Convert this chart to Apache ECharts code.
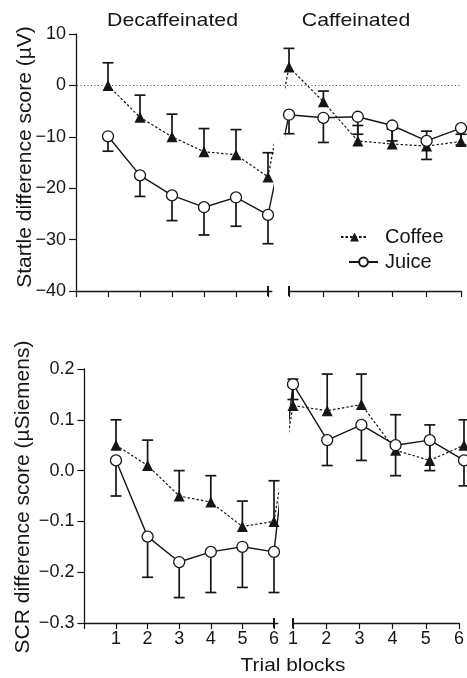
<!DOCTYPE html>
<html><head><meta charset="utf-8">
<script src="https://cdn.jsdelivr.net/npm/echarts@6/dist/echarts.min.js"></script>
<style>html,body{margin:0;padding:0;background:#fff}#c{width:467px;height:678px}</style>
</head><body><div id="c"></div>
<script>
// ---------- data ----------
const blocks = [1, 2, 3, 4, 5, 6];
const xTickValues = [1, 2, 3, 4, 5, 6];

// Startle difference score (µV)
const startleDecafCoffee    = [0, -6.2, -10, -12.9, -13.5, -17.8];
const startleDecafCoffeeErr = [4.4, -1.9, -5.6, -8.4, -8.6, -13.1];   // upper bar end
const startleDecafJuice     = [-9.9, -17.5, -21.4, -23.7, -21.8, -25.2];
const startleDecafJuiceErr  = [-12.8, -21.6, -26.3, -29.1, -27.4, -30.8]; // lower bar end
const startleCafCoffee      = [3.6, -3.2, -10.8, -11.4, -11.8, -10.9];
const startleCafCoffeeErr   = [7.2, -1.1, -7.8, -8.5, -8.9, -9.5];
const startleCafJuice       = [-5.7, -6.3, -6.1, -7.8, -10.8, -8.3];
const startleCafJuiceErr    = [-9.4, -11.1, -9.5, -10.8, -14.4, -11.6];

// SCR difference score (µSiemens)
const scrDecafCoffee    = [0.05, 0.01, -0.05, -0.062, -0.11, -0.10];
const scrDecafCoffeeErr = [0.10, 0.06, 0.0, -0.01, -0.06, -0.02];
const scrDecafJuice     = [0.02, -0.13, -0.18, -0.16, -0.15, -0.16];
const scrDecafJuiceErr  = [-0.05, -0.21, -0.25, -0.24, -0.23, -0.24];
const scrCafCoffee      = [0.128, 0.118, 0.13, 0.04, 0.02, 0.05];
const scrCafCoffeeErr   = [0.18, 0.19, 0.19, 0.11, 0.09, 0.10];
const scrCafJuice       = [0.17, 0.06, 0.09, 0.05, 0.06, 0.02];
const scrCafJuiceErr    = [0.14, 0.01, 0.02, -0.01, 0.0, -0.03];

// ---------- layout ----------
const F = '"Liberation Sans", Arial, Helvetica, sans-serif';
const INK = '#161616';
const TOP = {x0: 76, u: 32, rx1: 289, ru: 34.4, top: 34, h: 257};
const BOT = {x0: 84.4, u: 31.6, rx1: 293, ru: 34.2, top: 369, h: 254};
const LMAX = 6.12, RMIN = 0.92;

function grids(P) {
  return [
    {left: P.x0, top: P.top, width: LMAX * P.u, height: P.h},
    {left: P.rx1 - (1 - RMIN) * P.ru, top: P.top, width: (6 - RMIN) * P.ru, height: P.h},
    {left: P.rx1, top: P.top, width: 5 * P.ru, height: P.h}   // right-half axis only
  ];
}
const gTop = grids(TOP), gBot = grids(BOT);

function mainX(gi, min, max, labels) {
  return {
    type: 'value', gridIndex: gi, min: min, max: max, position: 'bottom',
    axisLine: {show: true, onZero: false, lineStyle: {color: INK, width: 1.3}},
    axisTick: {show: true, length: 6, lineStyle: {color: INK, width: 1.2},
               customValues: min === 0 ? [0].concat(xTickValues) : xTickValues},
    axisLabel: labels ? {show: true, customValues: xTickValues, margin: 7,
               fontSize: 18, fontFamily: F, color: INK} : {show: false},
    splitLine: {show: false}
  };
}
function hiddenX(gi, min, max) {
  return {type: 'value', gridIndex: gi, min: min, max: max, show: false};
}
function breakX(gi, min, max, at) {
  return {
    type: 'value', gridIndex: gi, min: min, max: max, offset: -5, position: 'bottom',
    axisLine: {show: false, onZero: false},
    axisTick: {show: true, length: 10, lineStyle: {color: INK, width: 2}, customValues: [at]},
    axisLabel: {show: false}, splitLine: {show: false}
  };
}
function yAx(gi, min, max, interval, show, fmt) {
  return {
    type: 'value', gridIndex: gi, min: min, max: max, interval: interval, show: show,
    axisLine: {show: true, onZero: false, lineStyle: {color: INK, width: 1.3}},
    axisTick: {show: true, length: 7, lineStyle: {color: INK, width: 1.2}},
    axisLabel: {show: true, margin: 10, fontSize: 18, fontFamily: F, color: INK, formatter: fmt},
    splitLine: {show: false}
  };
}
const fmtTop = v => (v < 0 ? '\u2212' : '') + Math.abs(v);
const fmtBot = v => (v < -1e-9 ? '\u2212' : '') + Math.abs(v).toFixed(1);

function errRender(params, api) {
  const x = api.value(0), y = api.value(1), b = api.value(2);
  const p1 = api.coord([x, y]), p2 = api.coord([x, b]);
  const hw = 5.5;
  const st = {stroke: INK, lineWidth: 1.7};
  return {type: 'group', children: [
    {type: 'line', shape: {x1: p1[0], y1: p1[1], x2: p2[0], y2: p2[1]}, style: st},
    {type: 'line', shape: {x1: p2[0] - hw, y1: p2[1], x2: p2[0] + hw, y2: p2[1]}, style: st}
  ]};
}

const coffeeLine = {color: INK, width: 1.2, type: [2.5, 2]};
const juiceLine = {color: INK, width: 1.4, type: 'solid'};

function panelSeries(gi, coffee, coffeeErr, juice, juiceErr) {
  return [
    {type: 'custom', name: 'ce' + gi, xAxisIndex: gi, yAxisIndex: gi, z: 1, silent: true,
     renderItem: errRender, data: blocks.map((b, i) => [b, coffee[i], coffeeErr[i]])},
    {type: 'custom', name: 'je' + gi, xAxisIndex: gi, yAxisIndex: gi, z: 1, silent: true,
     renderItem: errRender, data: blocks.map((b, i) => [b, juice[i], juiceErr[i]])},
    {type: 'line', name: 'Coffee', xAxisIndex: gi, yAxisIndex: gi, z: 3,
     symbol: 'triangle', symbolSize: 11, showSymbol: true,
     itemStyle: {color: INK}, lineStyle: coffeeLine,
     data: blocks.map((b, i) => [b, coffee[i]])},
    {type: 'line', name: 'Juice', xAxisIndex: gi, yAxisIndex: gi, z: 4,
     symbol: 'circle', symbolSize: 11, showSymbol: true,
     itemStyle: {color: '#fff', borderColor: INK, borderWidth: 1.3}, lineStyle: juiceLine,
     data: blocks.map((b, i) => [b, juice[i]])}
  ];
}
// connecting segments between the two halves of each panel (clipped by each grid)
function connectors(giL, giR, P, dc, cc, dj, cj) {
  const gapPx = P.rx1 - (P.x0 + 6 * P.u);
  const lx = 6 + gapPx / P.u, rx = 1 - gapPx / P.ru;
  const mk = (gi, data, ls, n) => ({type: 'line', name: n, xAxisIndex: gi, yAxisIndex: gi, z: 2,
    symbol: 'none', clip: true, silent: true, lineStyle: ls, data: data});
  return [
    mk(giL, [[6, dc[5]], [lx, cc[0]]], coffeeLine, 'cl' + giL),
    mk(giL, [[6, dj[5]], [lx, cj[0]]], juiceLine, 'jl' + giL),
    mk(giR, [[rx, dc[5]], [1, cc[0]]], coffeeLine, 'cr' + giR),
    mk(giR, [[rx, dj[5]], [1, cj[0]]], juiceLine, 'jr' + giR)
  ];
}

const option = {
  animation: false,
  backgroundColor: '#fff',
  // 0 top-left, 1 top-right (data), 2 bottom-left, 3 bottom-right (data),
  // 4 zero-line overlay, 5 top-right axis, 6 bottom-right axis
  grid: [gTop[0], gTop[1], gBot[0], gBot[1],
         {left: 77, top: TOP.top, width: 384, height: TOP.h},
         gTop[2], gBot[2]],
  xAxis: [
    mainX(0, 0, LMAX, false), hiddenX(1, RMIN, 6),
    mainX(2, 0, LMAX, true), hiddenX(3, RMIN, 6),
    hiddenX(4, 0, 1),
    mainX(5, 1, 6, false), mainX(6, 1, 6, true),
    breakX(0, 0, LMAX, 6), breakX(5, 1, 6, 1),
    breakX(2, 0, LMAX, 6), breakX(6, 1, 6, 1)
  ],
  yAxis: [
    yAx(0, -40, 10, 10, true, fmtTop), yAx(1, -40, 10, 10, false, fmtTop),
    yAx(2, -0.3, 0.2, 0.1, true, fmtBot), yAx(3, -0.3, 0.2, 0.1, false, fmtBot),
    {type: 'value', gridIndex: 4, min: -40, max: 10, show: false},
    {type: 'value', gridIndex: 5, min: -40, max: 10, show: false},
    {type: 'value', gridIndex: 6, min: -0.3, max: 0.2, show: false}
  ],
  legend: [
    {data: ['Coffee'], left: 340, top: 227, padding: 0, itemWidth: 27, itemHeight: 11,
     selectedMode: false, textStyle: {fontSize: 20, fontFamily: F, color: INK, padding: [0, 0, 0, 12]}},
    {data: ['Juice'], left: 348, top: 252, padding: 0, itemWidth: 29, itemHeight: 11,
     selectedMode: false, textStyle: {fontSize: 20, fontFamily: F, color: INK, padding: [0, 0, 0, 2]}}
  ],
  graphic: [
    {type: 'text', x: 172.5, y: 21, scaleX: 1.12, silent: true,
     style: {text: 'Decaffeinated', fontSize: 19, fontFamily: F, fill: INK, align: 'center', verticalAlign: 'middle'}},
    {type: 'text', x: 356, y: 21, scaleX: 1.12, silent: true,
     style: {text: 'Caffeinated', fontSize: 19, fontFamily: F, fill: INK, align: 'center', verticalAlign: 'middle'}},
    {type: 'text', x: 293, y: 666, scaleX: 1.1, silent: true,
     style: {text: 'Trial blocks', fontSize: 19, fontFamily: F, fill: INK, align: 'center', verticalAlign: 'middle'}},
    {type: 'text', x: 25, y: 157, rotation: Math.PI / 2, silent: true,
     style: {text: 'Startle difference score (\u00b5V)', fontSize: 21, fontFamily: F, fill: INK, align: 'center', verticalAlign: 'middle'}},
    {type: 'text', x: 23, y: 497, rotation: Math.PI / 2, silent: true,
     style: {text: 'SCR difference score (\u00b5Siemens)', fontSize: 21, fontFamily: F, fill: INK, align: 'center', verticalAlign: 'middle'}}
  ],
  series: [].concat(
    [{type: 'line', name: 'zero', xAxisIndex: 4, yAxisIndex: 4, data: [], silent: true,
      markLine: {silent: true, symbol: 'none', label: {show: false},
                 lineStyle: {color: '#444', width: 1, type: [1, 2.5]}, data: [{yAxis: 0}]}}],
    panelSeries(0, startleDecafCoffee, startleDecafCoffeeErr, startleDecafJuice, startleDecafJuiceErr),
    panelSeries(1, startleCafCoffee, startleCafCoffeeErr, startleCafJuice, startleCafJuiceErr),
    panelSeries(2, scrDecafCoffee, scrDecafCoffeeErr, scrDecafJuice, scrDecafJuiceErr),
    panelSeries(3, scrCafCoffee, scrCafCoffeeErr, scrCafJuice, scrCafJuiceErr),
    connectors(0, 1, TOP, startleDecafCoffee, startleCafCoffee, startleDecafJuice, startleCafJuice),
    connectors(2, 3, BOT, scrDecafCoffee, scrCafCoffee, scrDecafJuice, scrCafJuice)
  )
};
echarts.init(document.getElementById('c'), null, {renderer: 'canvas'}).setOption(option);
</script>
</body></html>
